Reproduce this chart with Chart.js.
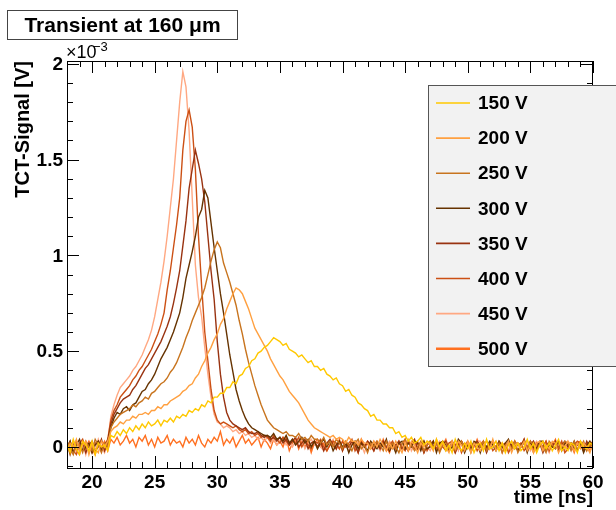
<!DOCTYPE html>
<html>
<head>
<meta charset="utf-8">
<script src="https://cdn.jsdelivr.net/npm/chart.js@4.4.1/dist/chart.umd.min.js"></script>
<style>
  html, body { margin: 0; padding: 0; background: #fff; }
  canvas { display: block; }
</style>
</head>
<body>
<canvas id="tct-chart" width="616" height="510"></canvas>
<script>
// sample times in ns
const timeNs = [
  18,18.25,18.5,18.75,19,19.25,19.5,19.75,20,20.25,20.5,20.75,21,21.25,21.5,21.75,
  22,22.25,22.5,22.75,23,23.25,23.5,23.75,24,24.25,24.5,24.75,25,25.25,25.5,25.75,
  26,26.25,26.5,26.75,27,27.25,27.5,27.75,28,28.25,28.5,28.75,29,29.25,29.5,29.75,
  30,30.25,30.5,30.75,31,31.25,31.5,31.75,32,32.25,32.5,32.75,33,33.25,33.5,33.75,
  34,34.25,34.5,34.75,35,35.25,35.5,35.75,36,36.25,36.5,36.75,37,37.25,37.5,37.75,
  38,38.25,38.5,38.75,39,39.25,39.5,39.75,40,40.25,40.5,40.75,41,41.25,41.5,41.75,
  42,42.25,42.5,42.75,43,43.25,43.5,43.75,44,44.25,44.5,44.75,45,45.25,45.5,45.75,
  46,46.25,46.5,46.75,47,47.25,47.5,47.75,48,48.25,48.5,48.75,49,49.25,49.5,49.75,
  50,50.25,50.5,50.75,51,51.25,51.5,51.75,52,52.25,52.5,52.75,53,53.25,53.5,53.75,
  54,54.25,54.5,54.75,55,55.25,55.5,55.75,56,56.25,56.5,56.75,57,57.25,57.5,57.75,
  58,58.25,58.5,58.75,59,59.25,59.5,59.75,60
];

// signal in units of 1e-3 V
const v150 = [
  .02,-.03,.04,-.01,-.04,.03,.01,-.02, .03,-.04,.02,0,.01,-.02,.06,.05,
  .08,.06,.09,.07,.1,.08,.11,.09, .12,.1,.13,.11,.12,.14,.11,.14,
  .13,.15,.13,.16,.15,.17,.16,.19, .18,.2,.19,.22,.21,.24,.23,.26,
  .26,.28,.28,.31,.31,.34,.33,.37, .38,.41,.42,.45,.46,.49,.5,.52,
  .53,.55,.57,.56,.55,.53,.54,.51, .5,.49,.47,.48,.46,.44,.45,.42,
  .42,.4,.41,.38,.37,.35,.36,.33, .32,.29,.3,.27,.26,.23,.22,.2,
  .19,.16,.17,.14,.14,.12,.12,.1, .1,.07,.08,.05,.06,.03,.05,.02,
  .03,.05,.01,.03,.02,-.01,.04,0, .03,-.02,.01,-.03,.04,0,-.02,.02,
  -.01,.03,-.03,.01,.02,-.02,.04,-.01, 0,.03,-.02,.02,-.03,.01,.03,-.01,
  .02,-.02,0,.04,-.01,.02,-.03,.01, .03,-.01,.02,-.02,.01,.04,-.02,0,
  -.02,.02,.01,-.03,.03,0,-.01,.02, .01
];
const v200 = [
  -.03,.02,0,.04,-.02,.01,.03,-.04, .02,-.01,-.03,.03,0,.03,.08,.1,
  .11,.13,.12,.14,.14,.16,.15,.17, .17,.18,.17,.19,.19,.21,.2,.22,
  .22,.24,.25,.26,.27,.29,.3,.32, .33,.36,.38,.42,.45,.49,.52,.56,
  .59,.64,.67,.72,.76,.8,.83,.82, .8,.76,.72,.67,.62,.59,.56,.53,
  .5,.46,.43,.4,.37,.35,.32,.29, .27,.25,.23,.2,.17,.14,.12,.1,
  .09,.08,.07,.06,.05,.06,.04,.05, .04,.02,.05,.03,.03,.01,.04,.02,
  .02,-.01,.03,0,.04,.01,-.02,.02, -.01,.03,0,-.03,.02,-.02,.03,.01,
  -.03,.02,0,.03,.01,-.02,.04,-.01, .02,0,-.03,.03,-.01,.03,.01,-.02,
  .03,-.03,.02,0,-.02,.01,.03,-.01, .04,-.02,0,.02,-.01,.03,-.03,.01,
  .02,0,.03,-.02,.01,-.03,.02,.03, -.02,.01,-.01,.03,.02,-.03,.01,0,
  .03,.01,-.02,.02,-.01,.02,0,-.03, .02
];
const v250 = [
  .03,-.01,-.04,.02,.01,-.03,.03,0, -.02,.04,.01,-.03,.02,0,.1,.13,
  .15,.17,.18,.19,.2,.22,.21,.23, .24,.26,.25,.28,.29,.31,.33,.34,
  .36,.39,.41,.44,.48,.52,.57,.61, .66,.7,.74,.78,.83,.9,.97,1.03,
  1.07,1.04,.96,.91,.86,.8,.74,.66, .59,.51,.44,.38,.32,.27,.22,.18,
  .14,.12,.1,.09,.08,.07,.08,.06, .06,.05,.07,.04,.05,.03,.06,.04,
  .04,.02,.05,.01,.03,0,.04,.02, -.01,.03,.01,-.02,.02,.04,-.01,.01,
  -.03,.02,0,.03,.01,-.02,.03,-.01, .02,0,-.03,.02,.04,-.01,.01,-.02,
  0,.03,-.02,.01,.03,-.01,.02,-.03, .01,.02,-.01,.03,-.02,0,.03,-.01,
  .02,-.03,.01,.02,0,.03,-.02,0, .03,-.01,.02,-.03,.01,.02,-.01,.03,
  -.03,0,.02,-.01,.03,.01,-.02,.02, 0,-.03,.03,.01,-.01,.02,0,.03,
  .02,-.02,.03,-.01,0,.03,-.02,.01, -.01
];
const v300 = [
  -.01,.03,-.03,.01,.04,-.02,0,.02, -.03,.01,.03,-.02,.01,.03,.1,.15,
  .18,.17,.2,.21,.19,.22,.23,.26, .29,.3,.33,.35,.38,.42,.46,.49,
  .52,.56,.6,.65,.7,.78,.88,.95, 1.02,1.1,1.2,1.24,1.34,1.3,1.17,1.04,
  .92,.8,.7,.59,.48,.39,.3,.24, .19,.15,.12,.1,.09,.08,.07,.06,
  .06,.05,.07,.04,.05,.03,.06,.02, .04,.01,.03,.05,.02,.04,0,.03,
  -.01,.02,.04,0,.03,-.02,.01,.03, 0,.02,-.03,.01,.03,-.01,.02,0,
  -.02,.03,.01,-.01,.02,0,.04,-.02, .01,-.03,.02,.03,-.01,.02,0,.03,
  .02,-.02,.03,-.01,0,.03,-.03,.02, .03,.01,-.02,0,-.01,.04,.02,-.03,
  .01,-.01,.03,.02,-.03,.02,0,.03, .01,-.02,.03,0,.02,.04,-.01,.01,
  -.02,.01,.03,-.03,.02,0,-.01,.03, .03,-.02,.01,0,-.01,.03,-.02,.02,
  .01,0,.03,-.02,.02,-.03,.01,.03, 0
];
const v350 = [
  .02,-.04,.01,.03,-.01,.02,-.03,.01, .03,-.02,0,.04,-.02,.02,.12,.17,
  .2,.23,.25,.26,.27,.3,.32,.35, .38,.41,.43,.46,.49,.52,.55,.59,
  .63,.68,.75,.83,.92,1.05,1.18,1.35, 1.45,1.55,1.48,1.4,1.28,1.1,.92,.77,
  .55,.38,.26,.18,.14,.12,.11,.1, .09,.1,.08,.07,.07,.08,.06,.05,
  .06,.04,.05,.03,.05,.02,.04,.01, .03,.05,0,.02,.04,-.01,.02,.03,
  0,.03,-.02,.02,.04,.01,-.01,.03, -.02,.02,0,.03,.01,-.03,.02,0,
  .03,.01,-.02,.02,-.01,.03,0,-.02, .02,.01,.03,-.01,0,-.02,.02,.04,
  -.01,.02,-.03,.01,.03,0,.02,-.02, .01,.03,-.01,.02,-.03,.01,.03,0,
  .02,-.02,.01,.03,0,.02,-.03,.01, .03,-.01,.02,0,-.02,.03,.01,-.01,
  .02,0,.04,-.02,.01,.03,-.01,.02, -.03,.01,.02,0,.03,-.02,.01,.03,
  0,.02,-.01,.01,.02,-.02,.03,0, .01
];
const v400 = [
  0,.03,-.02,-.04,.02,.04,-.01,.01, -.03,.02,.03,-.01,.01,.04,.14,.19,
  .22,.26,.28,.3,.32,.35,.37,.4, .42,.45,.48,.51,.55,.59,.64,.7,
  .82,.92,1.04,1.16,1.3,1.55,1.7,1.76, 1.67,1.45,1.1,.84,.6,.45,.3,.19,
  .14,.12,.13,.12,.11,.1,.11,.09, .08,.09,.07,.08,.06,.07,.05,.06,
  .05,.03,.06,.04,.02,.05,.03,.01, .04,.02,.05,0,.03,.01,-.01,.03,
  .02,.04,0,-.02,.01,.03,.02,-.01, .03,0,.02,.04,-.02,.01,.03,0,
  .02,-.01,.01,.03,0,.02,-.02,.01, .03,-.01,.02,0,-.02,.03,.01,-.01,
  .02,0,.03,-.02,.01,.03,-.01,.02, 0,-.02,.02,.03,.01,.02,-.03,.01,
  .03,0,.02,-.02,.01,.03,-.01,.02, -.02,0,.03,.01,.02,-.03,0,.03,
  .01,.02,-.02,0,.03,-.01,.02,.01, 0,.03,-.02,.02,.02,0,.03,-.03,
  -.01,.02,.01,.03,.02,-.02,0,.01, .03
];
const v450 = [
  .03,-.01,.02,-.03,0,.03,-.04,.02, .01,-.02,.04,0,-.03,.02,.16,.22,
  .27,.31,.33,.35,.37,.4,.42,.45, .48,.52,.56,.61,.68,.77,.86,.97,
  1.1,1.25,1.4,1.6,1.8,1.96,1.88,1.65, 1.3,.95,.78,.68,.52,.38,.26,.17,
  .13,.12,.1,.11,.1,.08,.09,.07, .08,.06,.07,.05,.06,.04,.05,.03,
  .05,.02,.04,.01,.03,.05,.01,.03, 0,.03,.02,.04,-.01,.02,.04,.01,
  .03,0,-.02,.02,.01,.04,0,-.01, .03,.01,-.02,.02,0,.03,.01,-.03,
  .02,0,.03,.01,-.02,.02,0,.03, .01,-.01,.03,0,.02,.04,-.02,.01,
  .03,-.01,.02,0,-.02,.02,.01,.03, 0,.03,-.01,.02,.02,-.02,.03,0,
  -.01,.02,0,.03,.03,0,-.02,.02, .01,.03,0,-.01,.02,-.02,.03,.01,
  0,.02,-.01,.03,-.02,.01,.03,0, .02,0,-.03,.02,.01,.03,0,-.02,
  .03,-.01,.02,.01,0,.02,-.02,.03, .01
];
const v500 = [
  .01,-.03,.03,-.02,-.04,.02,0,.03, -.01,-.04,.02,0,.03,-.02,.04,.02,
  .05,.01,.03,.06,.02,.04,0,.05, .03,.06,.01,.04,0,.05,.02,.03,
  .06,.01,.04,.02,.03,0,.05,.02, .04,.01,.06,.02,0,.04,.02,.05,
  .03,.08,.01,.04,.02,.05,0,.03, .06,.02,.04,.01,.03,.05,0,.04,
  .02,-.01,.04,.01,.03,0,.05,-.02, .02,.04,-.01,.03,0,.03,-.03,.02,
  .04,0,.02,-.02,.01,.03,-.01,.04, -.02,.02,0,.03,.01,-.03,.04,0,
  .03,.01,-.02,.02,-.01,.04,0,-.03, .02,0,.03,-.01,.04,-.02,.01,.03,
  -.01,.02,-.03,.01,.03,0,.02,-.02, .01,.04,-.01,0,-.03,.02,.03,-.01,
  .02,-.02,0,.04,0,.03,-.02,.01, .03,-.01,.02,-.03,.01,.02,0,.03,
  -.02,.01,.04,-.01,.02,-.03,.01,.02, 0,.03,-.01,.01,.04,-.02,.02,0,
  -.01,.01,-.03,.02,.03,0,.02,-.02, .01
];

const seriesLabels = ['150 V', '200 V', '250 V', '300 V', '350 V', '400 V', '450 V', '500 V'];
const seriesColors = ['#ffc800', '#ffa040', '#c8741e', '#663300', '#993311', '#cc5014', '#ffa882', '#ff7020'];
const seriesValues = [v150, v200, v250, v300, v350, v400, v450, v500];

const xTicks = [20, 25, 30, 35, 40, 45, 50, 55, 60];
const yTicks = [0, 0.5, 1, 1.5, 2];
const yTickLabels = ['0', '0.5', '1', '1.5', '2'];

const FONT = '"Liberation Sans", Arial, sans-serif';

// ROOT-like frame, inward ticks, labels, title and legend box
const rootStyle = {
  id: 'rootStyle',
  beforeDraw(chart) {
    const ctx = chart.ctx;
    ctx.save();
    ctx.fillStyle = '#fff';
    ctx.fillRect(0, 0, chart.width, chart.height);
    ctx.restore();
  },
  afterDatasetsDraw(chart) {
    const { ctx, chartArea: a, scales: { x, y } } = chart;
    ctx.save();
    ctx.strokeStyle = '#000';
    ctx.lineWidth = 1;

    // frame
    ctx.strokeRect(Math.round(a.left) + 0.5, Math.round(a.top) + 0.5,
      Math.round(a.right - a.left) - 1, Math.round(a.bottom - a.top));

    ctx.beginPath();
    // x ticks, bottom and top
    for (let t = 18; t <= 60; t += 1) {
      const px = Math.round(x.getPixelForValue(t)) + 0.5;
      const len = t % 5 === 0 ? 12 : 6;
      ctx.moveTo(px, a.bottom); ctx.lineTo(px, a.bottom - len);
      ctx.moveTo(px, a.top); ctx.lineTo(px, a.top + len);
    }
    // y ticks, left and right
    for (let k = -1; k <= 20; k++) {
      const v = k / 10;
      const py = Math.round(y.getPixelForValue(v)) + 0.5;
      const len = k % 5 === 0 ? 12 : 6;
      ctx.moveTo(a.left, py); ctx.lineTo(a.left + len, py);
      ctx.moveTo(a.right, py); ctx.lineTo(a.right - len, py);
    }
    ctx.stroke();

    // tick labels
    ctx.fillStyle = '#000';
    ctx.font = 'bold 19px ' + FONT;
    ctx.textAlign = 'center';
    ctx.textBaseline = 'alphabetic';
    xTicks.forEach(t => ctx.fillText(String(t), x.getPixelForValue(t), 488));
    ctx.textAlign = 'right';
    ctx.textBaseline = 'middle';
    yTicks.forEach((v, i) => ctx.fillText(yTickLabels[i], 63, y.getPixelForValue(v) + 1));

    // exponent
    ctx.textAlign = 'left';
    ctx.textBaseline = 'alphabetic';
    ctx.font = '18px ' + FONT;
    ctx.fillText('\u00d710', 66, 58);
    ctx.font = '13px ' + FONT;
    ctx.fillText('\u22123', 93, 51);

    // axis titles
    ctx.font = 'bold 19px ' + FONT;
    ctx.textAlign = 'right';
    ctx.fillText('time [ns]', a.right, 503);
    ctx.save();
    ctx.translate(29, a.top);
    ctx.rotate(-Math.PI / 2);
    ctx.font = 'bold 20px ' + FONT;
    ctx.textAlign = 'right';
    ctx.fillText('TCT-Signal [V]', 0, 0);
    ctx.restore();

    // title box
    ctx.fillStyle = '#fff';
    ctx.fillRect(7.5, 10.5, 230, 29);
    ctx.strokeStyle = '#444';
    ctx.strokeRect(7.5, 10.5, 230, 29);
    ctx.fillStyle = '#000';
    ctx.font = 'bold 21px ' + FONT;
    ctx.textAlign = 'center';
    ctx.textBaseline = 'middle';
    ctx.fillText('Transient at 160 \u03bcm', 122.5, 26);

    // legend box
    ctx.fillStyle = '#f2f2f2';
    ctx.fillRect(428.5, 85.5, 200, 281);
    ctx.strokeStyle = '#555';
    ctx.strokeRect(428.5, 85.5, 200, 281);
    ctx.font = 'bold 19px ' + FONT;
    ctx.textAlign = 'left';
    ctx.textBaseline = 'middle';
    seriesLabels.forEach((lab, i) => {
      const ly = 103 + i * 35.1;
      ctx.strokeStyle = seriesColors[i];
      ctx.lineWidth = i === 7 ? 2.5 : 1.6;
      ctx.beginPath();
      ctx.moveTo(436, ly);
      ctx.lineTo(470, ly);
      ctx.stroke();
      ctx.fillStyle = '#000';
      ctx.fillText(lab, 478, ly + 1);
    });

    ctx.restore();
  }
};

const datasets = seriesValues.map((vals, i) => ({
  label: seriesLabels[i],
  data: timeNs.map((t, j) => ({ x: t, y: vals[j] })),
  borderColor: seriesColors[i],
  borderWidth: 1.4,
  pointRadius: 0,
  tension: 0,
  fill: false
}));

new Chart(document.getElementById('tct-chart').getContext('2d'), {
  type: 'line',
  data: { datasets: datasets },
  options: {
    responsive: false,
    animation: false,
    devicePixelRatio: 1,
    layout: { padding: { left: 67, right: 23, top: 61, bottom: 42 } },
    scales: {
      x: { type: 'linear', min: 18, max: 60, display: false },
      y: { type: 'linear', min: -0.11, max: 2.015, display: false }
    },
    plugins: { legend: { display: false }, tooltip: { enabled: false } }
  },
  plugins: [rootStyle]
});
</script>
</body>
</html>
